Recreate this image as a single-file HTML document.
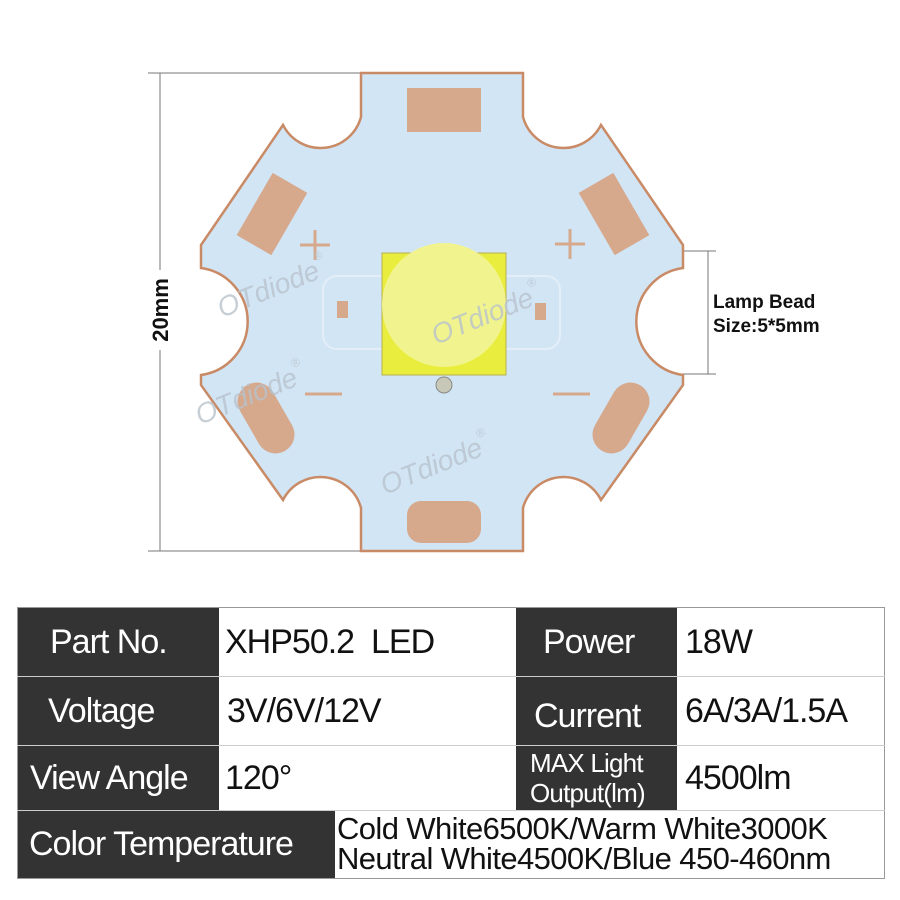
<!DOCTYPE html>
<html><head><meta charset="utf-8"><style>
body{margin:0;width:900px;height:900px;background:#fff;position:relative;overflow:hidden;font-family:"Liberation Sans",sans-serif}
svg{position:absolute;left:0;top:0}
.c{position:absolute;box-sizing:border-box;font-family:"Liberation Sans Narrow","Liberation Sans",sans-serif;font-size:34px;display:flex;align-items:center;white-space:nowrap;letter-spacing:-1px}
.d{background:#333;color:#fff}
.w{background:#fff;color:#111}
</style></head><body>
<svg width="900" height="900" viewBox="0 0 900 900">
<g stroke="#777" stroke-width="1">
<line x1="148" y1="73" x2="362" y2="73"/>
<line x1="148" y1="551" x2="362" y2="551"/>
<line x1="160" y1="73" x2="160" y2="270"/>
<line x1="160" y1="350" x2="160" y2="551"/>
<line x1="430" y1="251" x2="716" y2="251"/>
<line x1="430" y1="374" x2="716" y2="374"/>
<line x1="708" y1="251" x2="708" y2="374"/>
</g>
<path d="M360,73 L523,73 L523,117 A42 42 0 0 0 601,125 L683,245 L683,268 A54 54 0 0 0 683,375 L683,385 L601,500 A42 42 0 0 0 523,508 L523,551 L361,551 L361,508 A42 42 0 0 0 283,500 L201,385 L201,375 A54 54 0 0 0 201,268 L201,245 L283,125 A42 42 0 0 0 361,117 L361,73 Z" fill="#d2e5f5" stroke="#c98a66" stroke-width="2.5"/>
<g fill="#d6a88c">
<rect x="407" y="88" width="74" height="44"/>
<rect x="407" y="501" width="74" height="42" rx="14"/>
<rect x="-36" y="-20" width="72" height="40" transform="translate(272,214) rotate(-60)"/>
<rect x="-36" y="-20" width="72" height="40" transform="translate(614,214) rotate(60)"/>
<rect x="-38" y="-19" width="76" height="38" rx="19" transform="translate(266,418) rotate(60)"/>
<rect x="-38" y="-19" width="76" height="38" rx="19" transform="translate(621,418) rotate(-60)"/>
<rect x="337" y="301" width="11" height="17"/>
<rect x="535" y="303" width="11" height="17"/>
</g>
<rect x="323" y="276" width="237" height="73" rx="14" fill="none" stroke="#e4eef8" stroke-width="2"/>
<g stroke="#d6a88c" stroke-width="3">
<line x1="300" y1="245" x2="330" y2="245"/><line x1="315" y1="230" x2="315" y2="260"/>
<line x1="555" y1="244" x2="585" y2="244"/><line x1="570" y1="229" x2="570" y2="259"/>
<line x1="305" y1="394" x2="342" y2="394"/>
<line x1="553" y1="394" x2="590" y2="394"/>
</g>
<rect x="382" y="253" width="124" height="122" fill="#e9ee3e" stroke="#b8b050" stroke-width="1"/>
<circle cx="444" cy="305" r="62" fill="#f1f48e"/>
<circle cx="444" cy="385" r="8" fill="#c8c8b8" stroke="#888" stroke-width="1"/>
<g fill="#b8c3cc" font-style="italic" font-size="28" font-family="Liberation Sans, sans-serif" opacity="0.8">
<text transform="translate(222,318) rotate(-22)">OTdiode<tspan font-size="12" dy="-18">®</tspan></text>
<text transform="translate(436,345) rotate(-22)">OTdiode<tspan font-size="12" dy="-18">®</tspan></text>
<text transform="translate(200,425) rotate(-22)">OTdiode<tspan font-size="12" dy="-18">®</tspan></text>
<text transform="translate(385,495) rotate(-22)">OTdiode<tspan font-size="12" dy="-18">®</tspan></text>
</g>
<text transform="translate(168,310) rotate(-90)" text-anchor="middle" font-weight="bold" font-size="22" fill="#111">20mm</text>
<text x="713" y="308" font-weight="bold" font-size="19" fill="#111">Lamp Bead</text>
<text x="713" y="332" font-weight="bold" font-size="19" fill="#111">Size:5*5mm</text>
<rect x="17.5" y="607.5" width="867" height="271" fill="none" stroke="#999"/>
<g stroke="#ccc"><line x1="17" y1="676.5" x2="885" y2="676.5"/><line x1="17" y1="745.5" x2="885" y2="745.5"/><line x1="17" y1="810.5" x2="885" y2="810.5"/></g>
</svg>
<div class="c d" style="left:18px;top:608px;width:201px;height:68px;padding-left:32px">Part No.</div>
<div class="c w" style="left:219px;top:608px;width:297px;height:68px;padding-left:6px">XHP50.2&nbsp; LED</div>
<div class="c d" style="left:516px;top:608px;width:161px;height:68px;padding-left:27px">Power</div>
<div class="c w" style="left:677px;top:608px;width:206px;height:68px;padding-left:8px">18W</div>
<div class="c d" style="left:18px;top:677px;width:201px;height:68px;padding-left:30px">Voltage</div>
<div class="c w" style="left:219px;top:677px;width:297px;height:68px;padding-left:8px">3V/6V/12V</div>
<div class="c d" style="left:516px;top:677px;width:161px;height:68px;padding-left:18px;padding-top:10px">Current</div>
<div class="c w" style="left:677px;top:677px;width:206px;height:68px;padding-left:8px">6A/3A/1.5A</div>
<div class="c d" style="left:18px;top:746px;width:201px;height:64px;padding-left:12px">View Angle</div>
<div class="c w" style="left:219px;top:746px;width:297px;height:64px;padding-left:6px">120°</div>
<div class="c d" style="left:516px;top:746px;width:161px;height:64px;padding-left:14px;font-size:26px;line-height:30px;display:block;padding-top:2px;letter-spacing:-0.8px">MAX Light<br>Output(lm)</div>
<div class="c w" style="left:677px;top:746px;width:206px;height:64px;padding-left:8px">4500lm</div>
<div class="c d" style="left:18px;top:811px;width:317px;height:67px;padding-left:11px">Color Temperature</div>
<div class="c w" style="left:335px;top:811px;width:548px;height:67px;padding-left:2px;font-size:31px;line-height:30px;display:block;padding-top:3px;letter-spacing:-0.6px">Cold White6500K/Warm White3000K<br>Neutral White4500K/Blue 450-460nm</div>
</body></html>
